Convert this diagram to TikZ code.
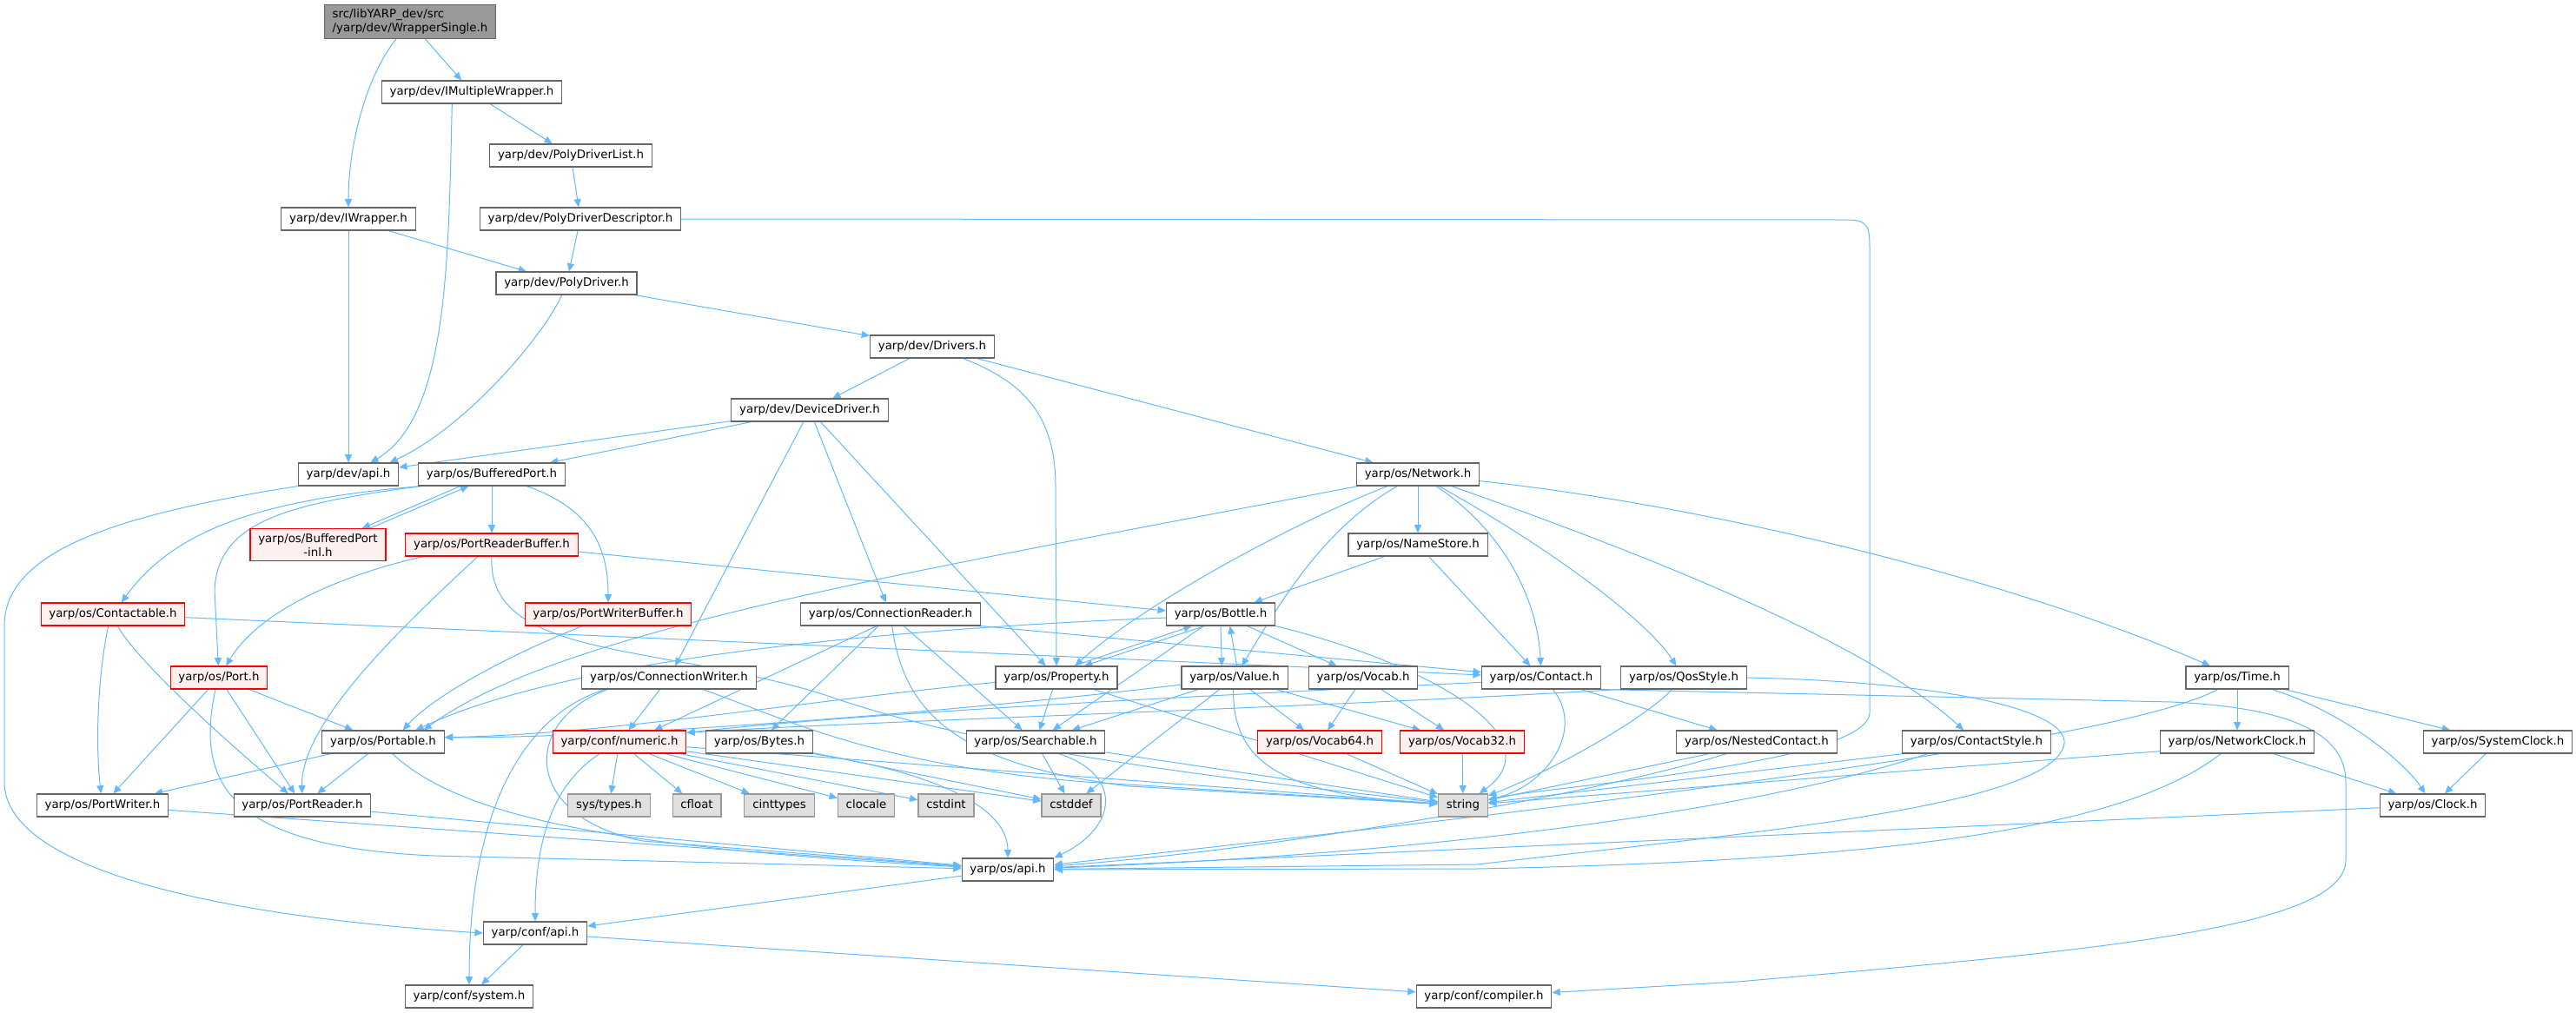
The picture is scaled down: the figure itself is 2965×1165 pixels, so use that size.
\documentclass[tikz,border=0pt]{standalone}
\usepackage{fontspec}
\setmainfont{DejaVu Sans}
\usetikzlibrary{arrows.meta}
\definecolor{edgeblue}{HTML}{63B8FF}
\definecolor{boxline}{HTML}{666666}
\definecolor{truncline}{HTML}{FF0000}
\definecolor{truncfill}{HTML}{FFF0F0}
\definecolor{sysline}{HTML}{999999}
\definecolor{sysfill}{HTML}{E0E0E0}
\definecolor{mainfill}{HTML}{999999}
\pgfdeclarelayer{edges}
\pgfsetlayers{edges,main}

\begin{document}
\begin{tikzpicture}[x=0.75pt, y=-0.75pt,
  filebox/.style={draw=boxline, fill=white, line width=0.8pt, inner xsep=7pt, font=\fontsize{10}{12}\selectfont},
  hdr/.style={filebox, inner ysep=0pt, minimum height=19.5pt, text height=7.6pt, text depth=2.4pt},
  trunc/.style={hdr, draw=truncline, fill=truncfill},
  sys/.style={hdr, draw=sysline, fill=sysfill},
  inc/.style={draw=edgeblue, line width=0.75pt, -{Triangle[length=7pt,width=6pt]}}]
\useasboundingbox (0,0) rectangle (2965,1165);

% headers
\node[filebox, fill=mainfill, align=left, inner ysep=4pt] (ws) at (472,25) {src/libYARP\_dev/src\\/yarp/dev/WrapperSingle.h};
\node[hdr] (imw) at (543,106) {yarp/dev/IMultipleWrapper.h};
\node[hdr] (pdl) at (657,179) {yarp/dev/PolyDriverList.h};
\node[hdr] (iwrap) at (401,252) {yarp/dev/IWrapper.h};
\node[hdr] (pdd) at (668,252) {yarp/dev/PolyDriverDescriptor.h};
\node[hdr] (pd) at (652,326) {yarp/dev/PolyDriver.h};
\node[hdr] (drivers) at (1073,399) {yarp/dev/Drivers.h};
\node[hdr] (devdrv) at (932,472) {yarp/dev/DeviceDriver.h};
\node[hdr] (network) at (1632,546) {yarp/os/Network.h};
\node[hdr] (devapi) at (401,546) {yarp/dev/api.h};
\node[hdr] (bport) at (566,546) {yarp/os/BufferedPort.h};
\node[filebox, draw=truncline, fill=truncfill, align=center, inner ysep=4pt] (bportinl) at (366,627) {yarp/os/BufferedPort\\-inl.h};
\node[trunc] (prbuf) at (566,627) {yarp/os/PortReaderBuffer.h};
\node[hdr] (namestore) at (1632,627) {yarp/os/NameStore.h};
\node[trunc] (contactable) at (130,707) {yarp/os/Contactable.h};
\node[trunc] (pwbuf) at (700,707) {yarp/os/PortWriterBuffer.h};
\node[hdr] (connreader) at (1025,707) {yarp/os/ConnectionReader.h};
\node[hdr] (bottle) at (1405,707) {yarp/os/Bottle.h};
\node[trunc] (port) at (252,780) {yarp/os/Port.h};
\node[hdr] (connwriter) at (770,780) {yarp/os/ConnectionWriter.h};
\node[hdr] (property) at (1216,780) {yarp/os/Property.h};
\node[hdr] (value) at (1421,780) {yarp/os/Value.h};
\node[hdr] (vocab) at (1569,780) {yarp/os/Vocab.h};
\node[hdr] (contact) at (1774,780) {yarp/os/Contact.h};
\node[hdr] (qosstyle) at (1938,780) {yarp/os/QosStyle.h};
\node[hdr] (time) at (2575,780) {yarp/os/Time.h};
\node[hdr] (portable) at (441,854) {yarp/os/Portable.h};
\node[trunc] (numeric) at (713,854) {yarp/conf/numeric.h};
\node[hdr] (bytes) at (874,854) {yarp/os/Bytes.h};
\node[hdr] (searchable) at (1192,854) {yarp/os/Searchable.h};
\node[trunc] (vocab64) at (1519,854) {yarp/os/Vocab64.h};
\node[trunc] (vocab32) at (1683,854) {yarp/os/Vocab32.h};
\node[hdr] (nested) at (2022,854) {yarp/os/NestedContact.h};
\node[hdr] (cstyle) at (2275,854) {yarp/os/ContactStyle.h};
\node[hdr] (netclock) at (2575,854) {yarp/os/NetworkClock.h};
\node[hdr] (sysclock) at (2875,854) {yarp/os/SystemClock.h};
\node[hdr] (portwriter) at (118,927) {yarp/os/PortWriter.h};
\node[hdr] (portreader) at (348,927) {yarp/os/PortReader.h};
\node[sys] (systypes) at (701,927) {sys/types.h};
\node[sys] (cfloat) at (802,927) {cfloat};
\node[sys] (cinttypes) at (897,927) {cinttypes};
\node[sys] (clocale) at (997,927) {clocale};
\node[sys] (cstdint) at (1089,927) {cstdint};
\node[sys] (cstddef) at (1233,927) {cstddef};
\node[sys] (string) at (1684,927) {string};
\node[hdr] (clock) at (2800,927) {yarp/os/Clock.h};
\node[hdr] (osapi) at (1160,1001) {yarp/os/api.h};
\node[hdr] (confapi) at (616,1074) {yarp/conf/api.h};
\node[hdr] (confsystem) at (540,1147) {yarp/conf/system.h};
\node[hdr] (compiler) at (1708,1147) {yarp/conf/compiler.h};

\begin{pgfonlayer}{edges}
% dev headers
\draw[inc] (ws) .. controls (420,90) and (401,170) .. (iwrap);
\draw[inc] (ws) -- (imw);
\draw[inc] (imw) -- (pdl);
\draw[inc] ([xshift=-17pt]imw.south) .. controls (516,300) and (516,480) .. ([xshift=19pt]devapi.north);
\draw[inc] (pdl) -- (pdd);
\draw[inc] (pdd) -- (pd);
\draw[inc] (pdd.east) -- (2125,253) .. controls (2152,253) and (2152,262) .. (2152,290) -- (2152,820) .. controls (2152,880) and (1780,905) .. (string);
\draw[inc] (iwrap) -- (devapi);
\draw[inc] (iwrap) -- (pd);
\draw[inc] (pd) .. controls (630,380) and (540,490) .. ([xshift=-8pt]devapi.north east);
\draw[inc] (pd) -- (drivers);
\draw[inc] (drivers) -- (devdrv);
\draw[inc] (drivers) .. controls (1180,440) and (1215,480) .. (1215,560) -- (property.north);
\draw[inc] (drivers) -- (network);
\draw[inc] (devdrv) -- (devapi);
\draw[inc] (devdrv) -- (bport);
\draw[inc] (devdrv) -- (connwriter);
\draw[inc] (devdrv) -- (connreader);
\draw[inc] (devdrv) -- (property);
\draw[inc] (devapi.south west) .. controls (150,590) and (5,630) .. (5,720) -- (5,900) .. controls (5,1000) and (250,1055) .. (confapi.west);
% ports
\draw[inc] ([xshift=-27pt]bport.south) -- ([xshift=38pt]bportinl.north);
\draw[inc] ([xshift=45pt]bportinl.north) -- ([xshift=-20pt]bport.south);
\draw[inc] (bport) -- (prbuf);
\draw[inc] ([xshift=30pt]bport.south) .. controls (680,585) and (700,630) .. (pwbuf);
\draw[inc] ([xshift=3pt]bport.south west) .. controls (330,580) and (250,600) .. (247,680) -- (port);
\draw[inc] ([xshift=3pt]bport.south west) .. controls (300,575) and (200,610) .. (contactable);
\draw[inc] ([xshift=16pt]prbuf.south west) .. controls (400,660) and (300,700) .. (port);
\draw[inc] ([xshift=-12pt]prbuf.south) .. controls (470,715) and (346,830) .. (portreader);
\draw[inc] (prbuf.south) .. controls (560,760) and (760,740) .. (950,800) .. controls (1150,870) and (1450,900) .. (string);
\draw[inc] ([yshift=-6pt]prbuf.east) -- ([yshift=3pt]bottle.west);
\draw[inc] ([xshift=-22pt]pwbuf.south) .. controls (590,752) and (500,800) .. ([xshift=17pt]portable.north);
\draw[inc] ([xshift=-4pt]contactable.south) .. controls (112,780) and (110,860) .. (portwriter);
\draw[inc] ([xshift=4pt]contactable.south) .. controls (160,765) and (280,870) .. (portreader);
\draw[inc] (contactable) -- (contact);
\draw[inc] (port) -- (portwriter);
\draw[inc] (port) -- (portreader);
\draw[inc] (port) -- (portable);
\draw[inc] ([xshift=-3pt]port.south) .. controls (225,900) and (260,975) .. (500,985) -- (osapi);
\draw[inc] (portable) -- (portwriter);
\draw[inc] (portable) -- (portreader);
\draw[inc] ([xshift=8pt]portable.south) .. controls (530,940) and (700,975) .. (osapi);
\draw[inc] (portwriter) -- (osapi);
\draw[inc] (portreader) -- (osapi);
% connections
\draw[inc] (connwriter) -- (numeric);
\draw[inc] ([xshift=-55pt]connwriter.south) .. controls (610,820) and (540,920) .. (confsystem);
\draw[inc] ([xshift=-53pt]connwriter.south) .. controls (600,830) and (600,940) .. (740,968) -- (osapi);
\draw[inc] ([xshift=29pt]connwriter.south) .. controls (900,825) and (1000,880) .. (1250,900) -- (string);
\draw[inc] ([xshift=-12pt]connreader.south) -- ([xshift=30pt]numeric.north);
\draw[inc] (connreader) -- (bytes);
\draw[inc] (connreader) -- (searchable);
\draw[inc] (connreader) .. controls (1040,820) and (1100,880) .. (1300,905) -- (string);
\draw[inc] (connreader.south east) -- (contact);
% numeric and friends
\draw[inc] ([xshift=-17pt]numeric.south) .. controls (640,900) and (616,960) .. (confapi);
\draw[inc] (numeric) -- (systypes);
\draw[inc] (numeric) -- (cfloat);
\draw[inc] (numeric) -- (cinttypes);
\draw[inc] (numeric) -- (clocale);
\draw[inc] (numeric) -- (cstdint);
\draw[inc] (numeric) -- (cstddef);
\draw[inc] (numeric) -- (string);
\draw[inc] (bytes) -- (cstddef);
\draw[inc] (bytes.south east) .. controls (1080,890) and (1160,930) .. (osapi);
\draw[inc] (searchable) -- (cstddef);
\draw[inc] ([xshift=20pt]searchable.south) .. controls (1290,890) and (1290,950) .. (osapi.north east);
\draw[inc] (searchable) -- (string);
% bottle, property, value
\draw[inc] (bottle.south) -- ([xshift=-11pt]value.north);
\draw[inc] ([xshift=2pt]value.north) -- ([xshift=8pt]bottle.south);
\draw[inc] ([xshift=-14pt]bottle.south) -- ([xshift=24pt]property.north);
\draw[inc] ([xshift=15pt]property.north) -- ([xshift=-25pt]bottle.south);
\draw[inc] (bottle) -- (vocab);
\draw[inc] (bottle) -- (searchable);
\draw[inc] (bottle.south east) .. controls (1650,765) and (1790,850) .. (string);
\draw[inc] ([yshift=-3pt]bottle.west) .. controls (1000,725) and (650,760) .. ([xshift=28pt]portable.north);
\draw[inc] (property) -- (searchable);
\draw[inc] (property) -- (string);
\draw[inc] ([yshift=-4pt]property.west) .. controls (900,810) and (700,845) .. ([yshift=4pt]portable.east);
\draw[inc] ([yshift=-6pt]value.west) .. controls (1100,820) and (700,850) .. ([yshift=4pt]portable.east);
\draw[inc] (value) -- (searchable);
\draw[inc] (value) -- (cstddef);
\draw[inc] ([xshift=-1pt]value.south) .. controls (1418,880) and (1480,915) .. (string);
\draw[inc] (value) -- (vocab64);
\draw[inc] (value) -- (vocab32);
\draw[inc] (vocab) -- (vocab64);
\draw[inc] (vocab) -- (vocab32);
\draw[inc] (vocab64) -- (string);
\draw[inc] (vocab32) -- (string);
% network
\draw[inc] (network) -- (namestore);
\draw[inc] (network) .. controls (1480,605) and (1310,700) .. ([xshift=16pt]property.north);
\draw[inc] (network) .. controls (1520,610) and (1470,700) .. (value);
\draw[inc] (network) .. controls (1730,610) and (1770,690) .. (contact);
\draw[inc] (network) .. controls (1800,640) and (1900,720) .. (qosstyle);
\draw[inc] (network) .. controls (1900,640) and (2150,740) .. (cstyle);
\draw[inc] (network) .. controls (1950,580) and (2300,660) .. (time);
\draw[inc] (network) .. controls (1100,650) and (650,720) .. ([xshift=35pt]portable.north);
\draw[inc] (namestore) -- (bottle);
\draw[inc] (namestore) -- (contact);
% contact side
\draw[inc] (contact) -- (nested);
\draw[inc] ([xshift=10pt]contact.south) .. controls (1825,840) and (1780,905) .. (string);
\draw[inc] (contact.south east) -- (2500,808) .. controls (2650,815) and (2700,850) .. (2700,900) -- (2700,990) .. controls (2700,1070) and (2400,1095) .. (2000,1130) -- (compiler);
\draw[inc] ([yshift=-4pt]contact.west) .. controls (1400,800) and (1000,820) .. ([yshift=8pt]numeric.east);
\draw[inc] (qosstyle.south west) .. controls (1500,815) and (1000,830) .. ([yshift=8pt]numeric.east);
\draw[inc] ([xshift=-10pt]qosstyle.south) .. controls (1890,830) and (1780,890) .. (string);
\draw[inc] (qosstyle.east) .. controls (2250,785) and (2390,820) .. (2375,860) .. controls (2350,930) and (2000,960) .. (1700,995) -- (osapi);
\draw[inc] ([xshift=-41pt]nested.south) -- (string);
\draw[inc] ([xshift=-26pt]nested.south) .. controls (1850,910) and (1500,975) .. (osapi);
\draw[inc] ([xshift=-63pt]cstyle.south) -- (string);
\draw[inc] ([xshift=-42pt]cstyle.south) .. controls (2000,940) and (1600,985) .. (osapi);
% clocks
\draw[inc] (time) -- (netclock);
\draw[inc] (time) -- (sysclock);
\draw[inc] ([xshift=30pt]time.south) .. controls (2700,820) and (2770,880) .. (clock);
\draw[inc] ([xshift=-17pt]time.south) .. controls (2450,850) and (1900,920) .. (osapi);
\draw[inc] (netclock) -- (clock);
\draw[inc] ([yshift=-8pt]netclock.west) -- (string);
\draw[inc] ([xshift=-14pt]netclock.south) .. controls (2450,950) and (2200,990) .. (1700,1000) -- (osapi);
\draw[inc] (sysclock) -- (clock);
\draw[inc] (clock) -- (osapi);
% conf
\draw[inc] (osapi) -- (confapi);
\draw[inc] (confapi) -- (confsystem);
\draw[inc] (confapi) -- (compiler);
\end{pgfonlayer}
\end{tikzpicture}
\end{document}
